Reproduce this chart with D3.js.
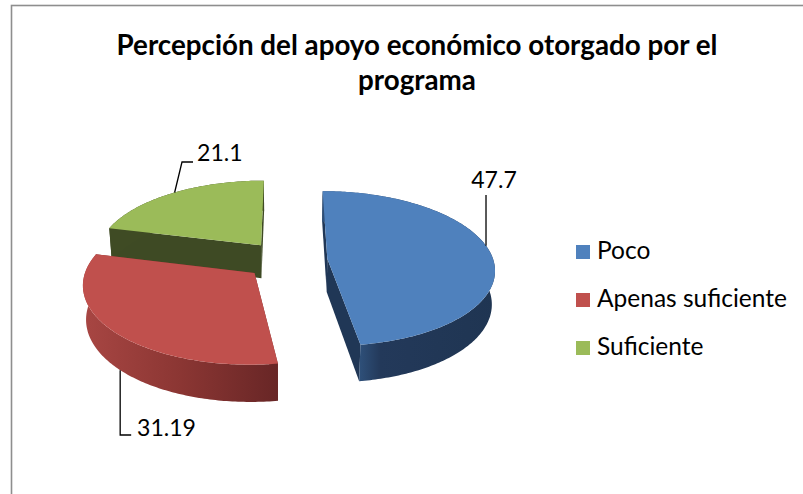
<!DOCTYPE html>
<html><head><meta charset="utf-8">
<script src="https://cdn.jsdelivr.net/npm/d3@7"></script>
<style>body{margin:0;background:#fff;overflow:hidden} svg{display:block}</style>
</head><body>
<script>
// ---- data ----
const categories = ["Poco", "Apenas suficiente", "Suficiente"];
const values = [47.7, 31.19, 21.1];
const valueLabels = ["47.7", "31.19", "21.1"];
const titleLines = ["Percepción del apoyo económico otorgado por el", "programa"];

// ---- style ----
const topColors = ["#4F81BD", "#C0504D", "#9BBB59"];
const sideStops = [
  [[0, "#2E4F78"], [0.15, "#23395A"], [1, "#1F3552"]],
  [[0, "#A84643"], [0.5, "#8B3633"], [1, "#682626"]],
  [[0, "#3F4B24"], [1, "#3F4B24"]]
];
const radialColors = ["#203756", "#7A2E2C", "#3E4A24"];
const FONT = "Lato, 'Open Sans', 'DejaVu Sans', sans-serif";

const W = 803, H = 494;
const svg = d3.select("body").append("svg").attr("width", W).attr("height", H);
const defs = svg.append("defs");

// frame
svg.append("rect").attr("x", 11.5).attr("y", 5.5).attr("width", 900).attr("height", 700)
  .attr("fill", "none").attr("stroke", "#8E8E8E").attr("stroke-width", 1.6);

// ---- 3D projection ----
const S = 166, sinP = 0.46, cosP = Math.sqrt(1 - sinP * sinP), PD = 7, DEPTH = 0.23, EXPLODE = 0.25;
const CX = 286, CY = 260;
function proj(X, Z, Y) {
  const dz = Z * cosP + Y * sinP;
  const k = PD / (PD - dz);
  return [CX + S * X * k, CY + S * (Z * sinP - Y * cosP) * k];
}

const pie = d3.pie().sort(null).value(d => d).startAngle(0).endAngle(2 * Math.PI);
const arcs = pie(values);
const slices = arcs.map((a, i) => {
  const mid = (a.startAngle + a.endAngle) / 2;
  return { i, a0: a.startAngle, a1: a.endAngle, ox: EXPLODE * Math.sin(mid), oz: -EXPLODE * Math.cos(mid) };
});
function pt(s, t, r, Y) { return proj(s.ox + r * Math.sin(t), s.oz - r * Math.cos(t), Y); }
function arcPts(s, t0, t1, Y) {
  const n = Math.max(2, Math.ceil(Math.abs(t1 - t0) / 0.015));
  return d3.range(n + 1).map(k => pt(s, t0 + (t1 - t0) * k / n, 1, Y));
}
const line = d3.line();
const poly = p => line(p) + "Z";

const g = svg.append("g");
slices.slice().sort((a, b) => a.oz - b.oz).forEach(s => {
  const gs = g.append("g");
  // radial faces
  [s.a0, s.a1].forEach(t => {
    gs.append("path").attr("d", poly([pt(s, t, 0, 0), pt(s, t, 1, 0), pt(s, t, 1, -DEPTH), pt(s, t, 0, -DEPTH)]))
      .attr("fill", radialColors[s.i]);
  });
  // outer side
  const topArc = arcPts(s, s.a0, s.a1, 0), botArc = arcPts(s, s.a0, s.a1, -DEPTH);
  const fr0 = Math.max(s.a0, Math.PI / 2), fr1 = Math.min(s.a1, 3 * Math.PI / 2);
  let x0 = d3.min(topArc, d => d[0]), x1 = d3.max(topArc, d => d[0]);
  if (fr1 > fr0) { const f = arcPts(s, fr0, fr1, 0); x0 = d3.min(f, d => d[0]); x1 = d3.max(f, d => d[0]); }
  const gid = "side" + s.i;
  const grad = defs.append("linearGradient").attr("id", gid).attr("gradientUnits", "userSpaceOnUse")
    .attr("x1", x0).attr("x2", x1).attr("y1", 0).attr("y2", 0);
  sideStops[s.i].forEach(st => grad.append("stop").attr("offset", st[0]).attr("stop-color", st[1]));
  gs.append("path").attr("d", poly(topArc.concat(botArc.reverse()))).attr("fill", `url(#${gid})`);
  // top face
  gs.append("path").attr("d", poly([pt(s, 0, 0, 0)].concat(arcPts(s, s.a0, s.a1, 0))))
    .attr("fill", topColors[s.i]);
});

// ---- data labels with leader lines ----
const labelLayout = [
  { angle: 80, rim: 0, pts: a => [a, [a[0], 195]], tx: 494, ty: 188, anchor: "middle" },
  { angle: 226, rim: 1, pts: a => [a, [a[0], 435], [a[0] + 11, 435]], tx: 137, ty: 436, anchor: "start" },
  { angle: 323, rim: 0, pts: a => [a, [182, 162], [193, 162]], tx: 197, ty: 161, anchor: "start" }
];
labelLayout.forEach((L, i) => {
  const s = slices[i];
  const a = pt(s, L.angle * Math.PI / 180, 1, L.rim ? -DEPTH : 0);
  svg.append("path").attr("d", line(L.pts(a))).attr("fill", "none").attr("stroke", "#000").attr("stroke-width", 1.3);
  svg.append("text").attr("x", L.tx).attr("y", L.ty).attr("text-anchor", L.anchor)
    .attr("font-family", FONT).attr("font-size", 21).attr("fill", "#000").text(valueLabels[i]);
});

// ---- title ----
const title = svg.append("g");
titleLines.forEach((t, i) => {
  title.append("text").attr("x", 417).attr("y", 55 + i * 35).attr("text-anchor", "middle")
    .attr("font-family", FONT).attr("font-weight", "bold").attr("font-size", 24).attr("fill", "#000").text(t);
});
{
  const t0 = title.select("text").node();
  const w = t0.getComputedTextLength();
  title.selectAll("text").attr("font-size", 24 * 601 / w);
}

// ---- legend ----
const legend = svg.append("g");
categories.forEach((c, i) => {
  legend.append("rect").attr("x", 576).attr("y", 245 + i * 48).attr("width", 14).attr("height", 14).attr("fill", topColors[i]);
  legend.append("text").attr("x", 597).attr("y", 259 + i * 48).attr("font-family", FONT).attr("font-size", 21)
    .attr("fill", "#000").text(c);
});
{
  const t1 = legend.selectAll("text").nodes()[1];
  const w = t1.getComputedTextLength();
  legend.selectAll("text").attr("font-size", 21 * 190 / w);
}
{
  const labs = svg.selectAll("text").filter(function () { return this.textContent === "31.19"; }).node();
  const w = labs.getComputedTextLength();
  const fs = 21 * 59 / w;
  svg.selectAll("text").filter(function () { return valueLabels.includes(this.textContent); }).attr("font-size", fs);
}
</script>
</body></html>
